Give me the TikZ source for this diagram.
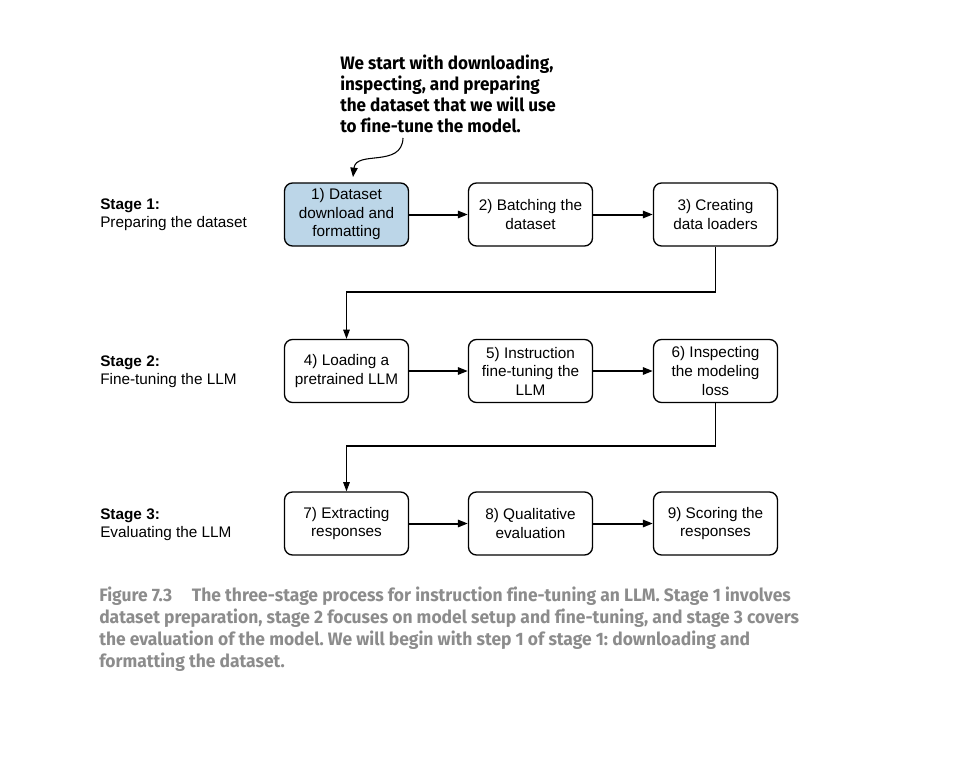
\documentclass[tikz,border=0pt]{standalone}
\usepackage{fontspec}
\setmainfont{Liberation Sans}
\newfontfamily\notefont[FakeStretch=0.95, Ligatures=NoCommon]{Fira Sans}
\newfontfamily\capfont[FakeStretch=0.97, Ligatures=NoCommon]{Fira Sans}
\usetikzlibrary{arrows.meta}
\definecolor{stepblue}{HTML}{BCD6E8}
\definecolor{capgray}{HTML}{8C8C8C}
\frenchspacing
\tikzset{
  stepbox/.style={draw=black, line width=1pt, rounded corners=6pt,
    minimum width=93pt, minimum height=47.25pt, align=center,
    font=\fontsize{11.5}{13.9}\selectfont, inner sep=2pt},
  flow/.style={line width=1.5pt, -{Triangle[length=7.5pt,width=5.5pt]}},
  link/.style={line width=0.8pt, -{Triangle[length=7pt,width=5pt]}},
  stagelabel/.style={anchor=north west, align=left, inner sep=0pt,
    font=\fontsize{11.5}{13.5}\selectfont},
}
\begin{document}
\begin{tikzpicture}[x=0.75pt, y=-0.75pt]
\useasboundingbox (0,0) rectangle (962,759);

% annotation
\node[anchor=north west, align=left, inner sep=0pt,
  font=\notefont\bfseries\fontsize{13.5}{15.75}\selectfont] (note) at (340,55)
  {We start with downloading,\\inspecting, and preparing\\the dataset that we will use\\to fine-tune the model.};

% stage labels
\node[stagelabel] (s1) at (100,199) {\textbf{Stage 1:}\\Preparing the dataset};
\node[stagelabel] (s2) at (100,356) {\textbf{Stage 2:}\\Fine-tuning the LLM};
\node[stagelabel] (s3) at (100,509) {\textbf{Stage 3:}\\Evaluating the LLM};

% steps
\node[stepbox, fill=stepblue] (b1) at (346.5,214.5) {1) Dataset\\download and\\formatting};
\node[stepbox] (b2) at (530.5,214.5) {2) Batching the\\dataset};
\node[stepbox] (b3) at (715.5,214.5) {3) Creating\\data loaders};
\node[stepbox] (b4) at (346.5,371) {4) Loading a\\pretrained LLM};
\node[stepbox] (b5) at (530.5,371) {5) Instruction\\fine-tuning the\\LLM};
\node[stepbox] (b6) at (715.5,371) {6) Inspecting\\the modeling\\loss};
\node[stepbox] (b7) at (346.5,523.5) {7) Extracting\\responses};
\node[stepbox] (b8) at (530.5,523.5) {8) Qualitative\\evaluation};
\node[stepbox] (b9) at (715.5,523.5) {9) Scoring the\\responses};

% arrows within stages
\draw[flow] (b1) -- (b2);
\draw[flow] (b2) -- (b3);
\draw[flow] (b4) -- (b5);
\draw[flow] (b5) -- (b6);
\draw[flow] (b7) -- (b8);
\draw[flow] (b8) -- (b9);

% arrows between stages
\coordinate (turn1) at (715.5,292);
\coordinate (turn2) at (715.5,446);
\draw[link] (b3.south) -- (turn1) -| (b4.north);
\draw[link] (b6.south) -- (turn2) -| (b7.north);

% pointer from the annotation
\coordinate (noteend) at (403,138);
\coordinate (tip) at (353,177);
\draw[line width=0.8pt, -{Triangle[length=7pt,width=5.5pt]}]
  (noteend) .. controls (402,168) and (356,150) .. (tip);

% caption
\node[anchor=north west, align=left, inner sep=0pt, text=capgray,
  font=\capfont\bfseries\fontsize{13.5}{16.5}\selectfont] (caption) at (99,587)
  {Figure 7.3\hspace{1.1em}The three-stage process for instruction fine-tuning an LLM. Stage 1 involves\\
   dataset preparation, stage 2 focuses on model setup and fine-tuning, and stage 3 covers\\
   the evaluation of the model. We will begin with step 1 of stage 1: downloading and\\
   formatting the dataset.};
\end{tikzpicture}
\end{document}
